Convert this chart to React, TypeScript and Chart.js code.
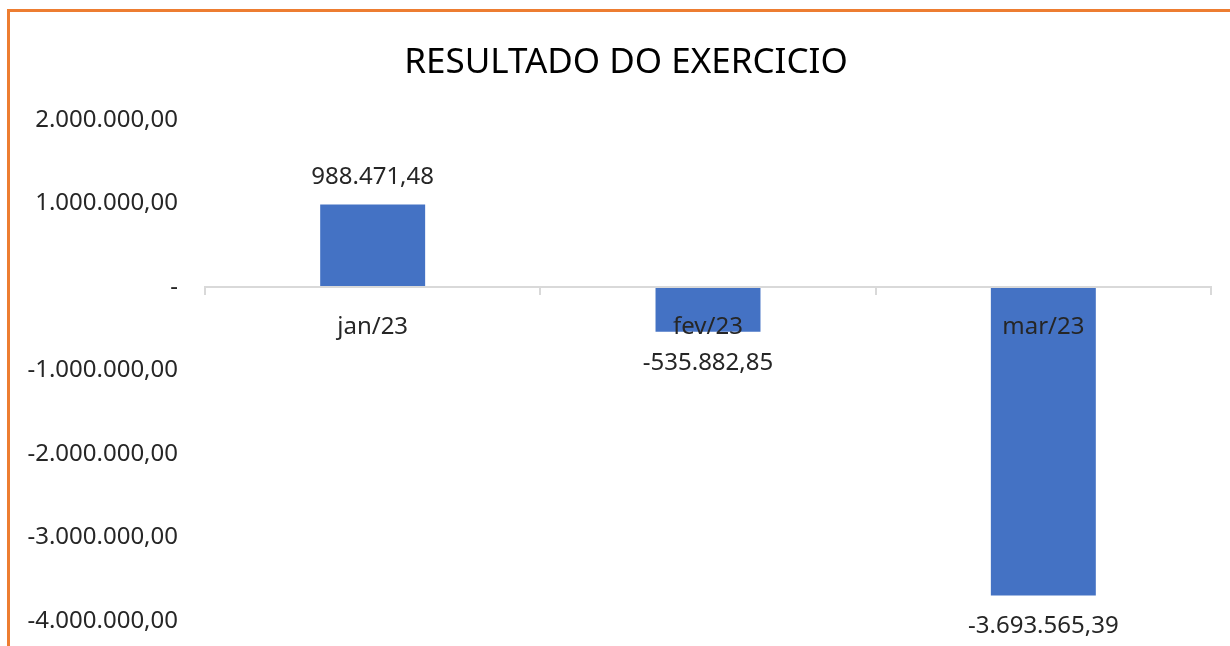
import React, { useEffect, useRef } from "react";
import { Chart, registerables } from "chart.js";

Chart.register(...registerables);

const chartTitle = "RESULTADO DO EXERCICIO";
const categories = ["jan/23", "fev/23", "mar/23"];
const resultValues = [988471.48, -535882.85, -3693565.39];
const yMin = -4000000;
const yMax = 2000000;
const yStep = 1000000;

const BAR_COLOR = "#4472C4";
const TEXT_COLOR = "#262626";
const AXIS_COLOR = "#D9D9D9";
const BORDER_COLOR = "#ED7D31";
const FONT = "'Noto Sans', 'DejaVu Sans', sans-serif";
const FONT_SIZE = 24;

function formatBR(v: number): string {
  const neg = v < 0;
  const abs = Math.abs(v);
  const fixed = abs.toFixed(2);
  const [intPart, dec] = fixed.split(".");
  const withDots = intPart.replace(/\B(?=(\d{3})+(?!\d))/g, ".");
  return (neg ? "-" : "") + withDots + "," + dec;
}

const framePlugin = {
  id: "frameAndTitle",
  beforeDraw(chart: any) {
    const ctx = chart.ctx;
    ctx.save();
    ctx.fillStyle = "#ffffff";
    ctx.fillRect(0, 0, chart.width, chart.height);
    ctx.fillStyle = BORDER_COLOR;
    ctx.fillRect(7, 9, chart.width - 7, 3);
    ctx.fillRect(7, 9, 3, chart.height - 9);
    ctx.fillStyle = "#000000";
    ctx.font = `35px ${FONT}`;
    ctx.textAlign = "center";
    ctx.textBaseline = "middle";
    ctx.fillText(chartTitle, 626, 63);
    ctx.restore();
  },
};

const labelPlugin = {
  id: "valueLabels",
  afterDatasetsDraw(chart: any) {
    const ctx = chart.ctx;
    const meta = chart.getDatasetMeta(0);
    const data = chart.data.datasets[0].data as number[];
    ctx.save();
    ctx.fillStyle = TEXT_COLOR;
    ctx.font = `${FONT_SIZE}px ${FONT}`;
    ctx.textAlign = "center";
    ctx.textBaseline = "middle";
    meta.data.forEach((bar: any, i: number) => {
      const v = data[i];
      const y = v >= 0 ? bar.y - 27 : bar.y + 31;
      ctx.fillText(formatBR(v), bar.x, y);
    });
    ctx.restore();
  },
};

export default function App() {
  const ref = useRef<HTMLCanvasElement | null>(null);
  useEffect(() => {
    if (!ref.current) return;
    const chart = new Chart(ref.current, {
      type: "bar",
      data: {
        labels: categories,
        datasets: [
          {
            data: resultValues,
            backgroundColor: BAR_COLOR,
            borderWidth: 0,
            barPercentage: 1,
            categoryPercentage: 0.313,
          },
        ],
      },
      options: {
        animation: false,
        responsive: false,
        maintainAspectRatio: false,
        layout: { padding: { top: 120, bottom: 25, right: 19, left: 0 } },
        plugins: {
          legend: { display: false },
          title: { display: false },
          tooltip: { enabled: false },
        },
        scales: {
          x: {
            position: { y: 0 } as any,
            grid: {
              display: true,
              offset: true,
              drawOnChartArea: false,
              drawTicks: true,
              tickLength: 7,
              color: AXIS_COLOR,
              lineWidth: 2,
              z: 1,
            },
            border: { display: true, color: AXIS_COLOR, width: 2, z: 1 },
            ticks: {
              color: TEXT_COLOR,
              font: { family: FONT, size: FONT_SIZE },
              padding: 19,
              maxRotation: 0,
              autoSkip: false,
              z: 2,
            },
          },
          y: {
            min: yMin,
            max: yMax,
            grid: { display: false, drawTicks: true, tickLength: 27 },
            border: { display: false },
            ticks: {
              stepSize: yStep,
              color: TEXT_COLOR,
              font: { family: FONT, size: FONT_SIZE },
              padding: 0,
              callback: (v: any) => (Number(v) === 0 ? "-" : formatBR(Number(v))),
            },
            afterFit: (scale: any) => {
              scale.width = 205;
            },
          },
        },
      },
      plugins: [framePlugin, labelPlugin],
    });
    return () => chart.destroy();
  }, []);
  return (
    <div style={{ position: "fixed", left: 0, top: 0, width: 1230, height: 646, background: "#fff" }}>
      <canvas ref={ref} width={1230} height={646} style={{ width: 1230, height: 646 }} />
    </div>
  );
}
